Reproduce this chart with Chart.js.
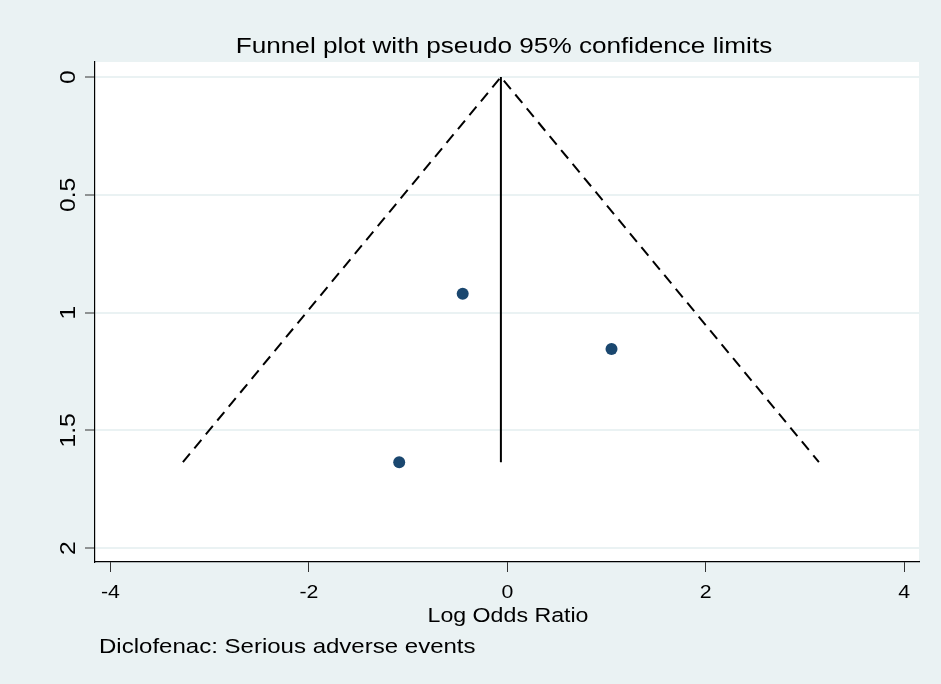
<!DOCTYPE html>
<html lang="en">
<head>
    <meta charset="UTF-8">
    <title>Funnel plot - Diclofenac</title>
    <script src="https://cdn.jsdelivr.net/npm/chart.js"></script>
    <style>
        body {
            margin: 0;
            background-color: #eaf2f3;
            font-family: "Liberation Sans", Arial, sans-serif;
        }
        #chart-container {
            width: 941px;
            height: 684px;
        }
    </style>
</head>
<body>
    <div id="chart-container">
        <canvas id="funnel"></canvas>
    </div>
    <script>
        // studies (log odds ratio vs standard error)
        const studyLogOR = [-0.45, 1.05, -1.09];
        const studySE = [0.92, 1.155, 1.635];

        // pooled estimate line
        const pooledX = [-0.065, -0.065];
        const pooledY = [0, 1.635];

        // pseudo 95% confidence limits
        const ciX = [-3.27, -0.065, 3.14];
        const ciY = [1.635, 0, 1.635];

        const xTicks = [-4, -2, 0, 2, 4];
        const xTickLabels = ['-4', '-2', '0', '2', '4'];
        const yTicks = [0, 0.5, 1, 1.5, 2];
        const yTickLabels = ['0', '0.5', '1', '1.5', '2'];

        const titleText = 'Funnel plot with pseudo 95% confidence limits';
        const xTitle = 'Log Odds Ratio';
        const note = 'Diclofenac: Serious adverse events';
        const FONT = '"Liberation Sans", Arial, sans-serif';

        const toPoints = (xs, ys) => xs.map((x, i) => ({ x: x, y: ys[i] }));

        // Stata's text comes out a bit wide, so draw it stretched along the text direction
        function wideText(ctx, text, x, y, size, stretch, align, rotated) {
            ctx.save();
            ctx.font = size + 'px ' + FONT;
            ctx.fillStyle = '#000';
            ctx.textAlign = align;
            ctx.textBaseline = 'alphabetic';
            ctx.translate(x, y);
            if (rotated) ctx.rotate(-Math.PI / 2);
            ctx.scale(stretch, 1);
            ctx.fillText(text, 0, 0);
            ctx.restore();
        }

        const stataLook = {
            id: 'stataLook',
            beforeDraw(chart) {
                const { ctx, chartArea: a } = chart;
                ctx.save();
                ctx.fillStyle = '#eaf2f3';
                ctx.fillRect(0, 0, chart.width, chart.height);
                ctx.fillStyle = '#ffffff';
                ctx.fillRect(a.left, a.top, a.right - a.left, a.bottom - a.top);
                ctx.restore();
            },
            afterDraw(chart) {
                const ctx = chart.ctx;
                const a = chart.chartArea;
                const xs = chart.scales.x;
                const ys = chart.scales.y;
                const mid = (a.left + a.right) / 2;

                wideText(ctx, titleText, mid - 3, 52.5, 21.8, 1.2, 'center', false);

                xs.ticks.forEach((t, i) => {
                    wideText(ctx, xTickLabels[i], xs.getPixelForValue(t.value), 597.5, 18.5, 1.15, 'center', false);
                });
                ys.ticks.forEach((t, i) => {
                    wideText(ctx, yTickLabels[i], 75, ys.getPixelForValue(t.value), 22, 1.12, 'center', true);
                });

                wideText(ctx, xTitle, mid + 1, 621.5, 20.5, 1.13, 'center', false);
                wideText(ctx, note, 99, 653, 20.2, 1.19, 'left', false);
            }
        };

        new Chart(document.getElementById('funnel'), {
            type: 'scatter',
            data: {
                datasets: [
                    {
                        label: 'Studies',
                        data: toPoints(studyLogOR, studySE),
                        backgroundColor: '#1a476f',
                        borderColor: '#1a476f',
                        borderWidth: 0,
                        pointRadius: 6,
                        order: 0
                    },
                    {
                        label: 'Pooled',
                        data: toPoints(pooledX, pooledY),
                        showLine: true,
                        borderColor: '#000',
                        borderWidth: 2,
                        pointRadius: 0,
                        order: 1
                    },
                    {
                        label: 'Pseudo 95% CI',
                        data: toPoints(ciX, ciY),
                        showLine: true,
                        borderColor: '#000',
                        borderWidth: 2,
                        borderDash: [11, 7],
                        pointRadius: 0,
                        order: 2
                    }
                ]
            },
            options: {
                responsive: true,
                maintainAspectRatio: false,
                animation: false,
                layout: {
                    padding: { left: 0, right: 22, top: 62, bottom: 0 }
                },
                scales: {
                    x: {
                        type: 'linear',
                        min: -4.156,
                        max: 4.149,
                        afterBuildTicks: s => { s.ticks = xTicks.map(v => ({ value: v })); },
                        afterFit: s => { s.height = 122; },
                        ticks: { display: false },
                        grid: {
                            drawOnChartArea: false,
                            tickLength: 10,
                            tickColor: '#333'
                        },
                        border: { color: '#000', width: 1.2 }
                    },
                    y: {
                        type: 'linear',
                        reverse: true,
                        min: -0.064,
                        max: 2.059,
                        afterBuildTicks: s => { s.ticks = yTicks.map(v => ({ value: v })); },
                        afterFit: s => { s.width = 95; },
                        ticks: { display: false },
                        grid: {
                            color: '#eaf2f3',
                            lineWidth: 2,
                            tickLength: 10,
                            tickColor: '#333',
                            tickWidth: 1
                        },
                        border: { color: '#000', width: 1.2 }
                    }
                },
                plugins: {
                    legend: { display: false },
                    tooltip: { enabled: false },
                    title: { display: false }
                }
            },
            plugins: [stataLook]
        });
    </script>
</body>
</html>
